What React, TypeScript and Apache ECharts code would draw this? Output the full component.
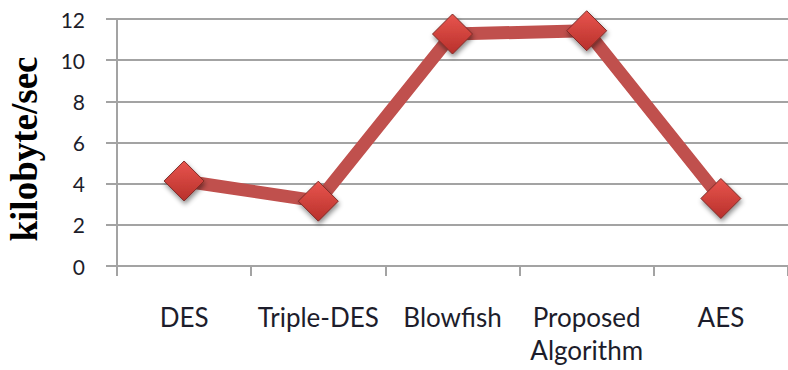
import React, { useEffect, useRef } from "react";
import * as echarts from "echarts";

// Throughput of each encryption algorithm, in kilobytes per second
const categories = ["DES", "Triple-DES", "Blowfish", "Proposed Algorithm", "AES"];
const throughput = [4.13, 3.15, 11.27, 11.43, 3.28];
const yTicks = { min: 0, max: 12, interval: 2 };
const yTitle = "kilobyte/sec";

const GRID_COLOR = "#a3a3a3";
const TEXT_COLOR = "#1d1d2b";
const LINE_COLOR = "#c0504d";

export default function App() {
  const ref = useRef<HTMLDivElement>(null);

  useEffect(() => {
    if (!ref.current) return;
    const chart = echarts.init(ref.current, undefined, { renderer: "svg" });
    chart.setOption({
      animation: false,
      backgroundColor: "#ffffff",
      grid: { left: 117, top: 19, width: 680, height: 247, containLabel: false },
      xAxis: {
        type: "category",
        data: categories,
        boundaryGap: true,
        axisLine: { lineStyle: { color: GRID_COLOR, width: 2 } },
        axisTick: { show: true, length: 10, lineStyle: { color: GRID_COLOR, width: 2 } },
        axisLabel: {
          interval: 0,
          margin: 34,
          color: TEXT_COLOR,
          fontFamily: "Lato",
          fontSize: 26,
          lineHeight: 33,
          formatter: (v: string) => v.replace(" ", "\n"),
        },
        splitLine: { show: false },
      },
      yAxis: {
        type: "value",
        min: yTicks.min,
        max: yTicks.max,
        interval: yTicks.interval,
        axisLine: { show: true, lineStyle: { color: GRID_COLOR, width: 2 } },
        axisTick: { show: true, length: 11, lineStyle: { color: GRID_COLOR, width: 2 } },
        axisLabel: {
          margin: 32,
          color: TEXT_COLOR,
          fontFamily: "Lato",
          fontSize: 21,
        },
        splitLine: { show: true, lineStyle: { color: GRID_COLOR, width: 2 } },
      },
      graphic: [
        {
          type: "text",
          x: 24,
          y: 149,
          rotation: Math.PI / 2,
          style: {
            text: yTitle,
            fill: "#000000",
            font: "bold 37px 'Liberation Serif', 'Times New Roman', serif",
            textAlign: "center",
            textVerticalAlign: "middle",
          },
        },
      ],
      series: [
        {
          type: "line",
          data: throughput,
          symbol: "diamond",
          symbolSize: 40,
          lineStyle: { color: LINE_COLOR, width: 13 },
          itemStyle: {
            color: new echarts.graphic.LinearGradient(0, 0, 0, 1, [
              { offset: 0, color: "#e8554e" },
              { offset: 1, color: "#b8302b" },
            ]),
            borderColor: "#7d2a27",
            borderWidth: 1,
            shadowColor: "rgba(0,0,0,0.45)",
            shadowBlur: 5,
            shadowOffsetX: 1,
            shadowOffsetY: 3,
          },
          emphasis: { disabled: true },
          z: 3,
        },
      ],
    });
    return () => chart.dispose();
  }, []);

  return (
    <div
      ref={ref}
      style={{ position: "fixed", left: 0, top: 0, width: 788, height: 370, background: "#fff" }}
    />
  );
}
